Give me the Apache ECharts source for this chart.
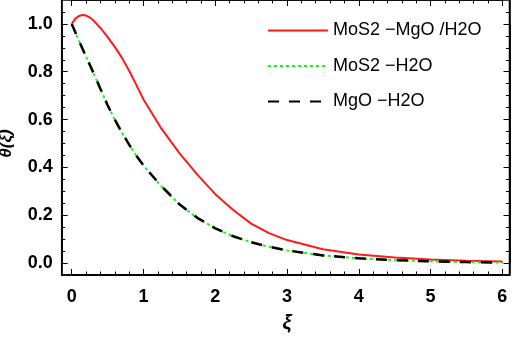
<!DOCTYPE html>
<html>
  <head>
    <meta charset="utf-8" />
    <title>theta xi</title>
    <style>
      html, body { margin: 0; padding: 0; background: #fff; }
      #chartBox { width: 512px; height: 337px; }
    </style>
  </head>
  <body>
    <div id="chartBox"></div>
  </body>
  <script src="https://cdn.jsdelivr.net/npm/echarts@6/dist/echarts.min.js"></script>
  <script>
    // data
    var xiVals = [0, 0.05, 0.1, 0.15, 0.2, 0.25, 0.3, 0.4, 0.5, 0.6, 0.7, 0.8, 0.9, 1.0, 1.25, 1.5, 1.75, 2, 2.25, 2.5, 2.75, 3, 3.5, 4, 4.5, 5, 5.5, 6];
    var hybridVals = [1.000, 1.022, 1.033, 1.037, 1.035, 1.027, 1.015, 0.983, 0.945, 0.904, 0.858, 0.804, 0.745, 0.684, 0.562, 0.460, 0.370, 0.288, 0.222, 0.165, 0.125, 0.096, 0.058, 0.036, 0.023, 0.015, 0.010, 0.006];
    var mos2Vals = [1.000, 0.965, 0.930, 0.896, 0.862, 0.830, 0.797, 0.728, 0.660, 0.600, 0.545, 0.495, 0.449, 0.408, 0.320, 0.245, 0.188, 0.145, 0.112, 0.087, 0.068, 0.053, 0.032, 0.020, 0.012, 0.007, 0.004, 0.002];
    var mgoVals = [1.000, 0.965, 0.930, 0.896, 0.862, 0.830, 0.797, 0.728, 0.660, 0.600, 0.545, 0.495, 0.449, 0.408, 0.321, 0.246, 0.189, 0.145, 0.112, 0.087, 0.068, 0.053, 0.032, 0.020, 0.012, 0.007, 0.004, 0.002];
    var seriesNames = ['MoS2 \u2212MgO /H2O', 'MoS2 \u2212H2O', 'MgO \u2212H2O'];

    function pairs(xs, ys) {
      var out = [];
      for (var k = 0; k < xs.length; k++) out.push([xs[k], ys[k]]);
      return out;
    }

    // axis on the frame, ticks inward; labMargin pushes unwanted labels off the canvas
    function tickAxis(grid, pos, min, max, interval, tickLen, minorSplit, labMargin) {
      var ax = {
        type: 'value',
        gridIndex: grid,
        position: pos,
        min: min,
        max: max,
        axisLine: { show: true, onZero: false, lineStyle: { color: '#000', width: 1.5 } },
        axisTick: { show: tickLen > 0, inside: true, length: tickLen, lineStyle: { color: '#000', width: 1 } },
        axisLabel: { show: true, margin: labMargin, color: '#000', fontSize: 18, fontWeight: 'bold' },
        splitLine: { show: false }
      };
      if (interval) ax.interval = interval;
      if (minorSplit) {
        ax.minorTick = { show: true, splitNumber: minorSplit, length: 3.5, lineStyle: { color: '#000', width: 1 } };
      }
      return ax;
    }

    // grid 0: frame + series, y minor ticks every 0.05
    var xFrame = tickAxis(0, 'bottom', -0.14, 6.1, null, 0, 0, 120);
    var yFrameLeft = tickAxis(0, 'left', -0.05, 1.1, 0.05, 3.5, 0, 120);
    var yFrameRight = tickAxis(0, 'right', -0.05, 1.1, 0.05, 3.5, 0, 9);

    // grid 1: x ticks 0..6
    var xTicksBottom = tickAxis(1, 'bottom', 0, 6, 1, 6, 5, 13);
    xTicksBottom.name = '\u03be';
    xTicksBottom.nameLocation = 'middle';
    xTicksBottom.nameGap = 38;
    xTicksBottom.nameTextStyle = { fontSize: 20, fontWeight: 'bold', fontStyle: 'italic', color: '#000' };
    var xTicksTop = tickAxis(1, 'top', 0, 6, 1, 6, 5, 9);

    // grid 2: major y ticks 0..1 with labels
    var yTicksLeft = tickAxis(2, 'left', 0, 1, 0.2, 6, 0, 9);
    yTicksLeft.axisLabel.formatter = function (v) { return v.toFixed(1); };
    yTicksLeft.name = '\u03b8(\u03be)';
    yTicksLeft.nameLocation = 'middle';
    yTicksLeft.nameGap = 47;
    yTicksLeft.nameTextStyle = { fontSize: 17, fontWeight: 'bold', fontStyle: 'italic', color: '#000' };
    var yTicksRight = tickAxis(2, 'right', 0, 1, 0.2, 6, 0, 9);

    var chart = echarts.init(document.getElementById('chartBox'));
    var option = {
      animation: false,
      grid: [
        { left: 61.7, right: 2.5, top: 0, bottom: 62, show: true, borderColor: '#000', borderWidth: 1.5, outerBoundsMode: 'none' },
        { left: 71.7, right: 9.7, top: 0, bottom: 62, outerBoundsMode: 'none' },
        { left: 61.7, right: 2.5, top: 23.9, bottom: 74, outerBoundsMode: 'none' }
      ],
      legend: {
        orient: 'vertical',
        left: 267,
        top: 21.5,
        padding: 0,
        itemWidth: 60,
        itemHeight: 14,
        itemGap: 17.5,
        data: seriesNames,
        itemStyle: { opacity: 0 },
        textStyle: { fontSize: 18, color: '#000' }
      },
      xAxis: [
        xFrame,
        xTicksBottom,
        xTicksTop,
        { type: 'value', gridIndex: 2, show: false, min: 0, max: 1 }
      ],
      yAxis: [
        yFrameLeft,
        yFrameRight,
        { type: 'value', gridIndex: 1, show: false, min: 0, max: 1 },
        yTicksLeft,
        yTicksRight
      ],
      series: [{
        name: seriesNames[0],
        type: 'line',
        xAxisIndex: 0,
        yAxisIndex: 0,
        showSymbol: false,
        symbol: 'none',
        lineStyle: { color: '#ff1a1a', width: 2 },
        itemStyle: { color: '#ff1a1a' },
        data: pairs(xiVals, hybridVals)
      }, {
        name: seriesNames[1],
        type: 'line',
        xAxisIndex: 0,
        yAxisIndex: 0,
        showSymbol: false,
        symbol: 'none',
        lineStyle: { color: '#22ee22', width: 2, type: [3, 3] },
        itemStyle: { color: '#22ee22' },
        data: pairs(xiVals, mos2Vals)
      }, {
        name: seriesNames[2],
        type: 'line',
        xAxisIndex: 0,
        yAxisIndex: 0,
        showSymbol: false,
        symbol: 'none',
        lineStyle: { color: '#000', width: 2.5, type: [11, 10] },
        itemStyle: { color: '#000' },
        data: pairs(xiVals, mgoVals)
      }]
    };
    chart.setOption(option);
  </script>
</html>
